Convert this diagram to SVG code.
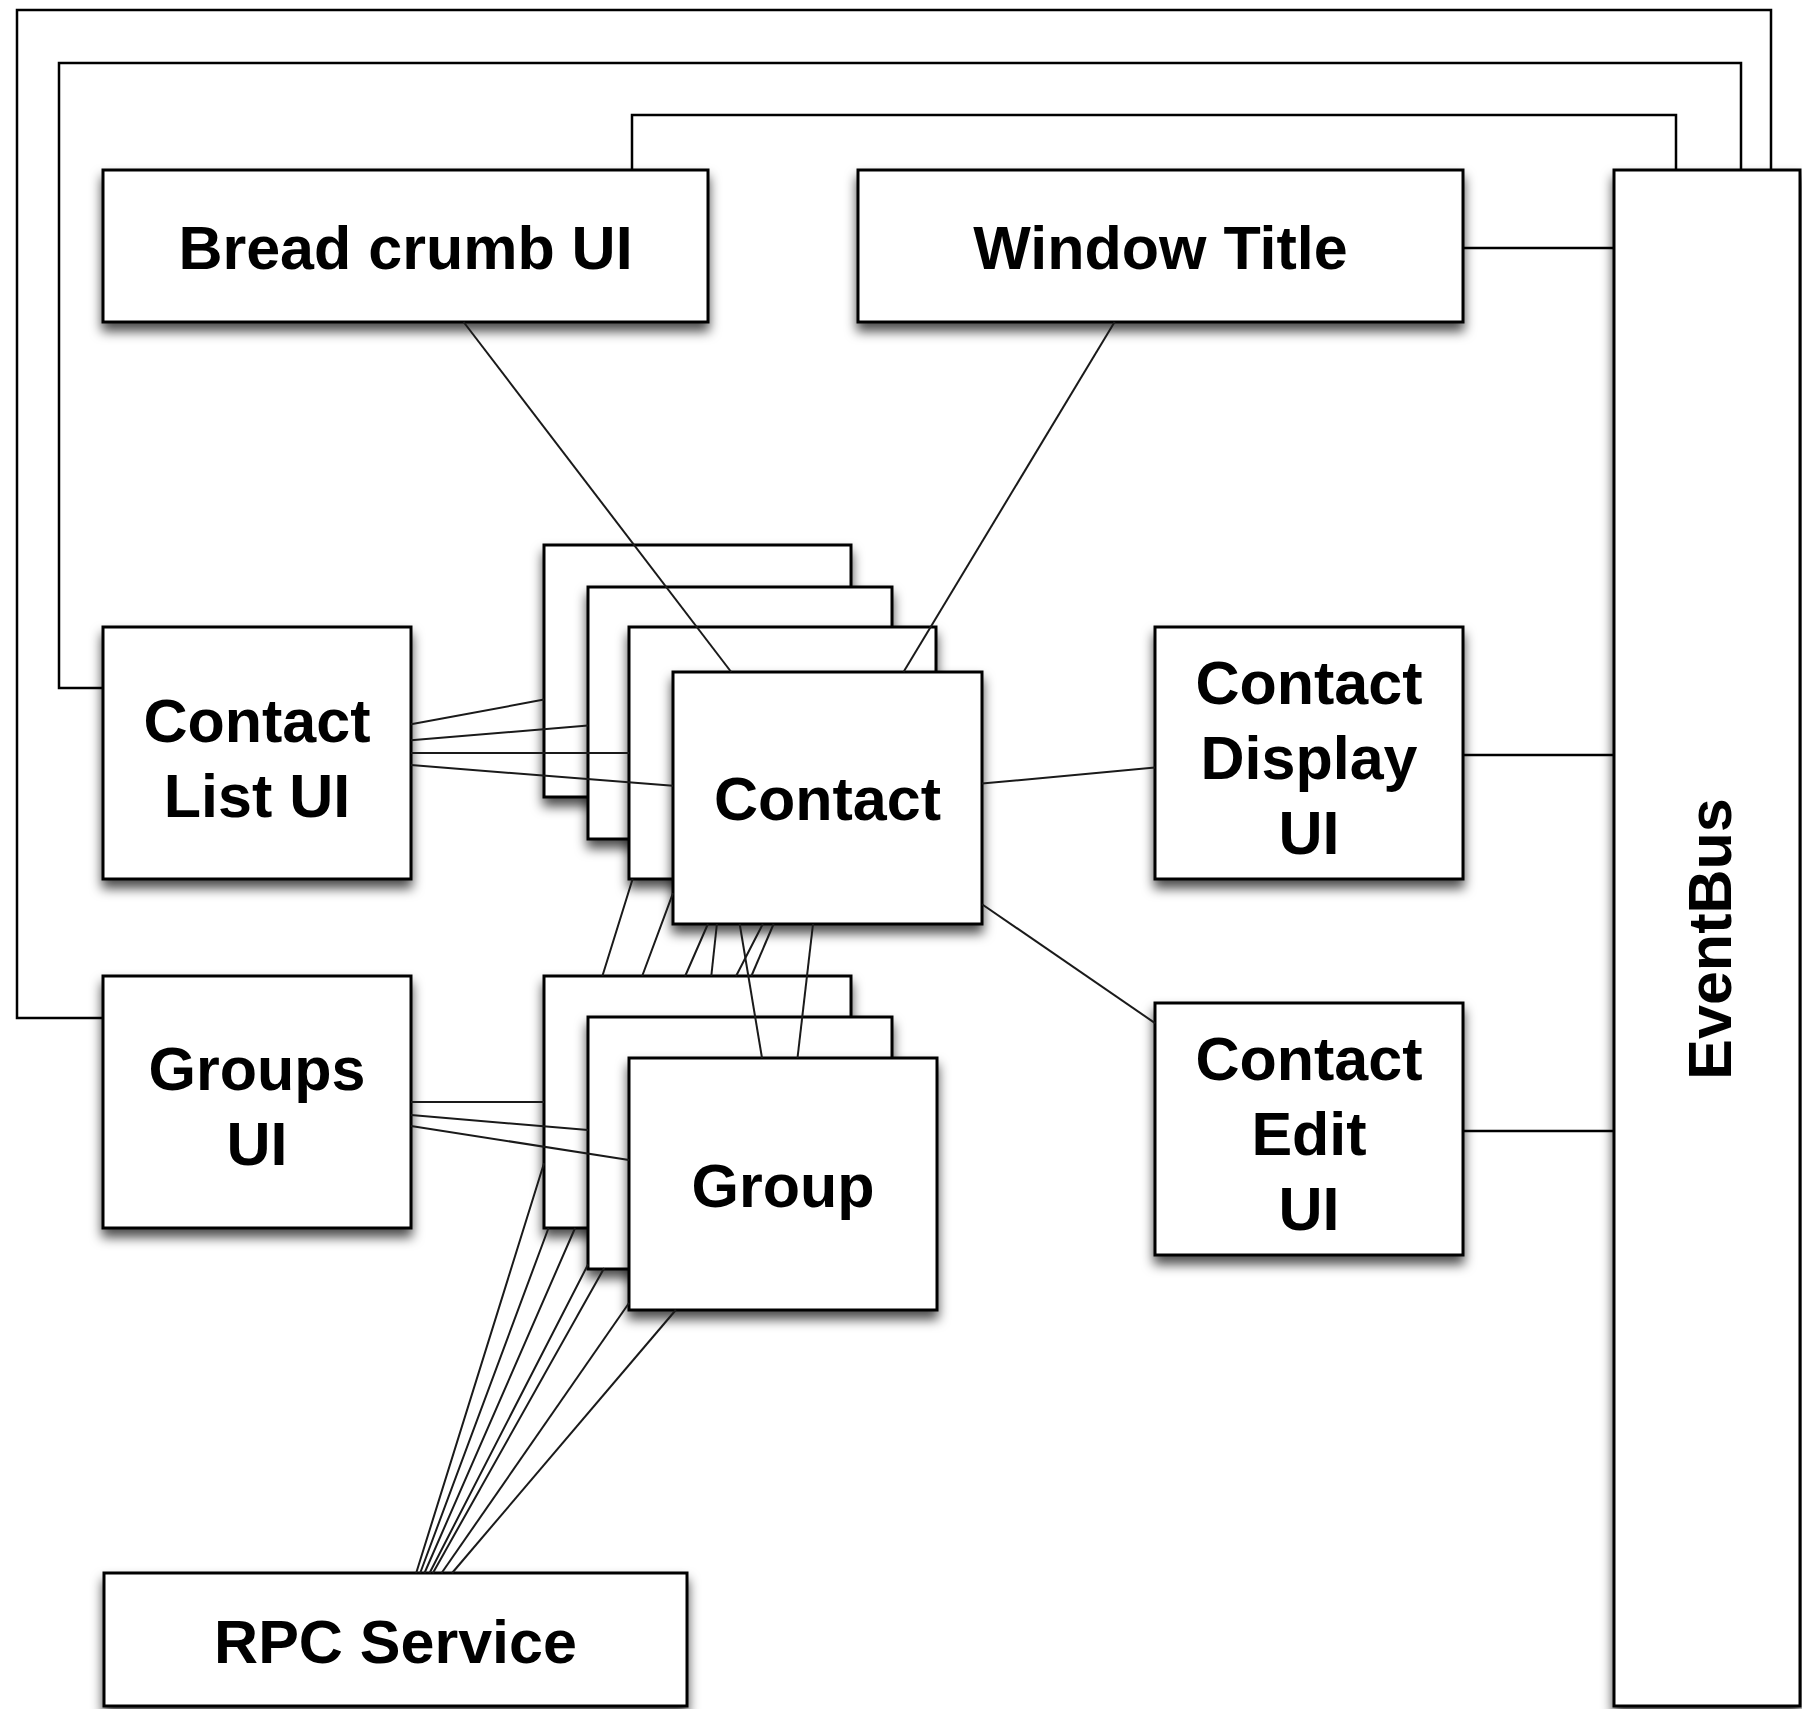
<svg xmlns="http://www.w3.org/2000/svg" width="1802" height="1709" viewBox="0 0 1802 1709">
  <defs>
    <filter id="shadow" x="-10%" y="-10%" width="120%" height="130%">
      <feDropShadow dx="0" dy="8" stdDeviation="6" flood-color="#000" flood-opacity="0.7"/>
    </filter>
    <style>
      .box { fill: #fff; stroke: #000; stroke-width: 3; filter: url(#shadow); }
      .lbl { font-family: "Liberation Sans", Arial, Helvetica, sans-serif; font-weight: bold; font-size: 61px; text-anchor: middle; fill: #000; }
      .wire { fill: none; stroke: #1a1a1a; stroke-width: 2; }
      .bus { fill: none; stroke: #000; stroke-width: 2.5; }
    </style>
  </defs>

  <rect width="1802" height="1709" fill="#fff"/>

  <!-- nodes -->
  <g id="nodes">
    <g id="breadcrumb-ui">
      <rect class="box" x="103" y="170" width="605" height="152"/>
      <text class="lbl" x="405.5" y="269">Bread crumb UI</text>
    </g>
    <g id="window-title">
      <rect class="box" x="858" y="170" width="605" height="152"/>
      <text class="lbl" x="1160.5" y="269">Window Title</text>
    </g>
    <g id="eventbus">
      <rect class="box" x="1614" y="170" width="186" height="1536"/>
      <text class="lbl" transform="translate(1731,939) rotate(-90)">EventBus</text>
    </g>
    <g id="contact-list-ui">
      <rect class="box" x="103" y="627" width="308" height="252"/>
      <text class="lbl" x="257" y="742">Contact</text>
      <text class="lbl" x="257" y="817">List UI</text>
    </g>
    <g id="groups-ui">
      <rect class="box" x="103" y="976" width="308" height="252"/>
      <text class="lbl" x="257" y="1090">Groups</text>
      <text class="lbl" x="257" y="1165">UI</text>
    </g>
    <g id="rpc-service">
      <rect class="box" x="104" y="1573" width="583" height="133"/>
      <text class="lbl" x="395.5" y="1663">RPC Service</text>
    </g>
    <g id="contact-display-ui">
      <rect class="box" x="1155" y="627" width="308" height="252"/>
      <text class="lbl" x="1309" y="704">Contact</text>
      <text class="lbl" x="1309" y="779">Display</text>
      <text class="lbl" x="1309" y="854">UI</text>
    </g>
    <g id="contact-edit-ui">
      <rect class="box" x="1155" y="1003" width="308" height="252"/>
      <text class="lbl" x="1309" y="1080">Contact</text>
      <text class="lbl" x="1309" y="1155">Edit</text>
      <text class="lbl" x="1309" y="1230">UI</text>
    </g>
    <!-- stacked Contact instances, back to front -->
    <g id="contact-1">
      <rect class="box" x="544" y="545" width="307" height="252"/>
    </g>
    <g id="contact-2">
      <rect class="box" x="588" y="587" width="304" height="252"/>
    </g>
    <g id="contact-3">
      <rect class="box" x="629" y="627" width="307" height="252"/>
    </g>
    <g id="contact-4">
      <rect class="box" x="673" y="672" width="309" height="252"/>
      <text class="lbl" x="827.5" y="820">Contact</text>
    </g>
    <!-- stacked Group instances, back to front -->
    <g id="group-1">
      <rect class="box" x="544" y="976" width="307" height="252"/>
    </g>
    <g id="group-2">
      <rect class="box" x="588" y="1017" width="304" height="252"/>
    </g>
    <g id="group-3">
      <rect class="box" x="629" y="1058" width="308" height="252"/>
      <text class="lbl" x="783" y="1207">Group</text>
    </g>
  </g>

  <!-- connectors (only the unobscured parts of each line are drawn) -->
  <g id="connectors">
    <!-- EventBus wiring -->
    <path class="bus" d="M103,1018 H17 V10 H1771 V170"/>
    <path class="bus" d="M103,688 H59 V63 H1741 V170"/>
    <path class="bus" d="M632,170 V115 H1676 V170"/>
    <path class="bus" d="M1463,248 H1614"/>
    <path class="bus" d="M1463,755 H1614"/>
    <path class="bus" d="M1463,1131 H1614"/>

    <!-- Contact List UI to contacts -->
    <path class="wire" d="M411,724.3 L544,699.6"/>
    <path class="wire" d="M411,740.2 L588,725.6"/>
    <path class="wire" d="M411,753 L629,753"/>
    <path class="wire" d="M411,765.1 L673,785.8"/>

    <!-- Groups UI to groups -->
    <path class="wire" d="M411,1102 L544,1102"/>
    <path class="wire" d="M411,1115.1 L588,1130.1"/>
    <path class="wire" d="M411,1126 L629,1160"/>

    <!-- selected contact -->
    <path class="wire" d="M463.6,322 L731.2,672"/>
    <path class="wire" d="M1114.6,322 L903.5,672"/>
    <path class="wire" d="M982,783.6 L1155,767.4"/>
    <path class="wire" d="M982,904.2 L1155,1023.1"/>

    <!-- contacts to groups -->
    <path class="wire" d="M739.7,924 L762,1058"/>
    <path class="wire" d="M716.9,924 L711.3,976"/>
    <path class="wire" d="M773.6,924 L751.4,976"/>
    <path class="wire" d="M813,924 L797.5,1058"/>

    <!-- RPC Service to contacts (pass behind the group stack) -->
    <path class="wire" d="M416.2,1573 L544,1163.3 M602.4,976 L632.6,879"/>
    <path class="wire" d="M420.2,1573 L548.5,1228 M642.2,976 L673,893.2"/>
    <path class="wire" d="M424.5,1573 L575.1,1228 M685.2,976 L707.9,924"/>
    <path class="wire" d="M429.6,1573 L588,1264.5 M736.1,976 L762.8,924"/>

    <!-- RPC Service to groups -->
    <path class="wire" d="M432.9,1573 L604.2,1268"/>
    <path class="wire" d="M441.6,1573 L629,1303"/>
    <path class="wire" d="M452.1,1573 L675.8,1310"/>
  </g>
</svg>
